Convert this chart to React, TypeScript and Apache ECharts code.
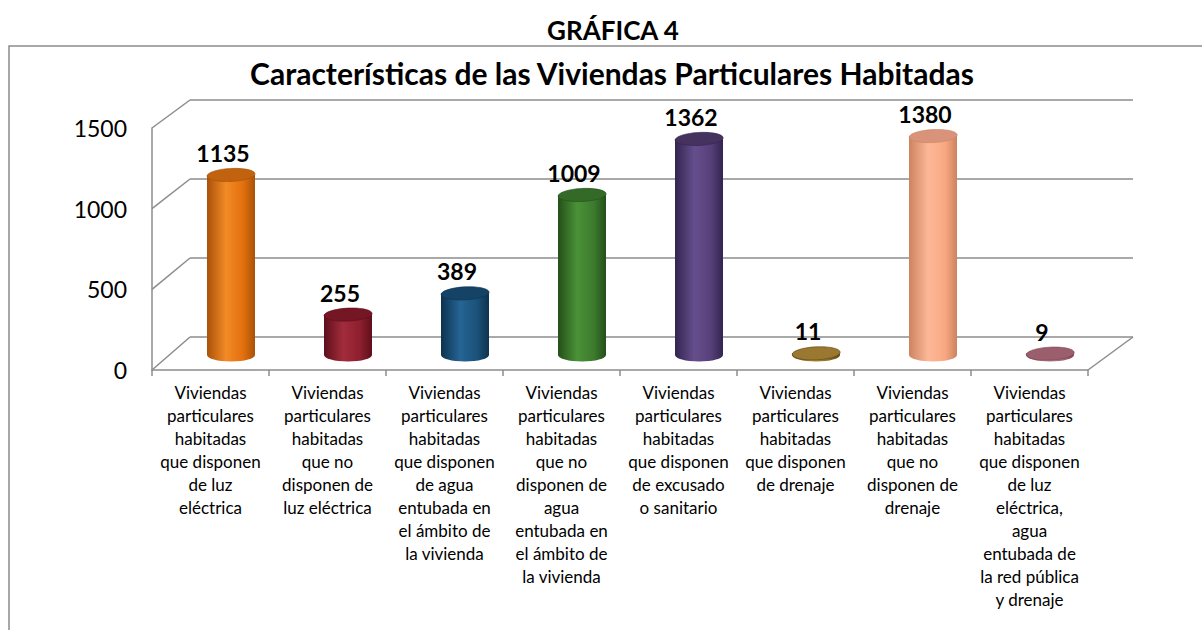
import React, { useEffect, useRef } from "react";
import * as echarts from "echarts";

const categories = [
  "Viviendas\nparticulares\nhabitadas\nque disponen\nde luz\neléctrica",
  "Viviendas\nparticulares\nhabitadas\nque no\ndisponen de\nluz eléctrica",
  "Viviendas\nparticulares\nhabitadas\nque disponen\nde agua\nentubada en\nel ámbito de\nla vivienda",
  "Viviendas\nparticulares\nhabitadas\nque no\ndisponen de\nagua\nentubada en\nel ámbito de\nla vivienda",
  "Viviendas\nparticulares\nhabitadas\nque disponen\nde excusado\no sanitario",
  "Viviendas\nparticulares\nhabitadas\nque disponen\nde drenaje",
  "Viviendas\nparticulares\nhabitadas\nque no\ndisponen de\ndrenaje",
  "Viviendas\nparticulares\nhabitadas\nque disponen\nde luz\neléctrica,\nagua\nentubada de\nla red pública\ny drenaje",
];
const values = [1135, 255, 389, 1009, 1362, 11, 1380, 9];
const yTicks = [0, 500, 1000, 1500];
const barColors = [
  { dark: "#A9520A", light: "#F28A26", base: "#E3700D", top: "#C0620E" },
  { dark: "#5E0F1C", light: "#A22C3B", base: "#8E1F2E", top: "#741624" },
  { dark: "#0D334F", light: "#256494", base: "#1B527A", top: "#154366" },
  { dark: "#244F1A", light: "#4A9237", base: "#3D7A2E", top: "#336A27" },
  { dark: "#33244F", light: "#654E8C", base: "#574079", top: "#45325F" },
  { dark: "#5E4716", light: "#B08A38", base: "#8E6E28", top: "#9A7830" },
  { dark: "#CC8360", light: "#FDB898", base: "#F8A882", top: "#D9937A" },
  { dark: "#804553", light: "#BC8490", base: "#A86876", top: "#9A5E6C" },
];

const FONT = "Lato, 'Open Sans', sans-serif";
const GRAY = "#8c8c8c";

// layout
const FRONT = { left: 152, right: 1088, top: 128, bottom: 370 };
const BACK = { left: 190, right: 1133, top: 100, bottom: 337 };

export default function App() {
  const ref = useRef<HTMLDivElement>(null);
  useEffect(() => {
    if (!ref.current) return;
    const chart = echarts.init(ref.current, undefined, { renderer: "svg" });
    const maxV = yTicks[yTicks.length - 1];
    const diagonals: any[] = yTicks.map((v) => {
      const fy = FRONT.bottom - (v / maxV) * (FRONT.bottom - FRONT.top);
      const by = BACK.bottom - (v / maxV) * (BACK.bottom - BACK.top);
      return {
        type: "line",
        shape: { x1: FRONT.left, y1: fy, x2: BACK.left, y2: by },
        style: { stroke: GRAY, lineWidth: 1.5 },
        z: 1,
      };
    });
    diagonals.push({
      type: "line",
      shape: { x1: FRONT.right, y1: FRONT.bottom, x2: BACK.right, y2: BACK.bottom },
      style: { stroke: GRAY, lineWidth: 1.5 },
      z: 1,
    });

    const option: any = {
      animation: false,
      backgroundColor: "#ffffff",
      textStyle: { fontFamily: FONT },
      grid: [
        { left: BACK.left, right: 1202 - BACK.right, top: BACK.top, bottom: 630 - BACK.bottom },
        { left: FRONT.left, right: 1202 - FRONT.right, top: FRONT.top, bottom: 630 - FRONT.bottom },
        { left: 172.5, right: 93.5, top: 117, bottom: 275 },
      ],
      xAxis: [
        { type: "category", gridIndex: 0, data: categories, show: false },
        {
          type: "category",
          gridIndex: 1,
          data: categories,
          axisLine: { show: true, lineStyle: { color: GRAY, width: 1.5 } },
          axisTick: { show: true, length: 6, lineStyle: { color: GRAY, width: 1.5 } },
          axisLabel: {
            interval: 0,
            color: "#000",
            fontSize: 17,
            lineHeight: 23,
            margin: 11,
            fontFamily: FONT,
            align: "center",
          },
        },
        { type: "category", gridIndex: 2, data: categories, show: false },
      ],
      yAxis: [
        {
          type: "value",
          gridIndex: 0,
          min: 0,
          max: 1500,
          interval: 500,
          axisLabel: { show: false },
          axisLine: { show: false },
          axisTick: { show: false },
          splitLine: { show: true, lineStyle: { color: GRAY, width: 1.5 } },
        },
        {
          type: "value",
          gridIndex: 1,
          min: 0,
          max: 1500,
          interval: 500,
          axisLabel: {
            color: "#000",
            fontSize: 23,
            margin: 25,
            fontFamily: FONT,
            formatter: (v: number) => String(v),
          },
          axisLine: { show: true, lineStyle: { color: GRAY, width: 1.5 } },
          axisTick: { show: false },
          splitLine: { show: false },
        },
        {
          type: "value",
          gridIndex: 2,
          min: 0,
          max: 1500,
          interval: 500,
          show: false,
          splitLine: { show: false },
        },
      ],
      graphic: [
        {
          type: "rect",
          shape: { x: 9, y: 46, width: 1300, height: 700 },
          style: { fill: "none", stroke: GRAY, lineWidth: 1.5 },
          z: 0,
        },
        {
          type: "text",
          x: 613,
          y: 30,
          style: {
            text: "GRÁFICA 4",
            font: `bold 26px ${FONT}`,
            fill: "#000",
            align: "center",
            verticalAlign: "middle",
          },
        },
        {
          type: "text",
          x: 612,
          y: 73,
          style: {
            text: "Características de las Viviendas Particulares Habitadas",
            font: `bold 30px ${FONT}`,
            fill: "#000",
            align: "center",
            verticalAlign: "middle",
          },
        },
        ...diagonals,
      ],
      series: [
        {
          type: "custom",
          xAxisIndex: 2,
          yAxisIndex: 2,
          z: 10,
          data: values.map((v, i) => [i, v]),
          renderItem: (params: any, api: any) => {
            const idx = params.dataIndex;
            const val = api.value(1);
            const top = api.coord([api.value(0), val]);
            const base = api.coord([api.value(0), 0]);
            const rx = 24;
            const ry = 6.5;
            const c = barColors[idx];
            const grad = new echarts.graphic.LinearGradient(0, 0, 1, 0, [
              { offset: 0, color: c.dark },
              { offset: 0.4, color: c.light },
              { offset: 0.75, color: c.base },
              { offset: 1, color: c.dark },
            ]);
            return {
              type: "group",
              children: [
                {
                  type: "ellipse",
                  shape: { cx: base[0], cy: base[1], rx, ry },
                  style: { fill: grad },
                },
                {
                  type: "rect",
                  shape: { x: base[0] - rx, y: top[1], width: rx * 2, height: Math.max(0, base[1] - top[1]) },
                  style: { fill: grad },
                },
                {
                  type: "ellipse",
                  shape: { cx: top[0], cy: top[1], rx, ry },
                  rotation: 0.05,
                  originX: top[0],
                  originY: top[1],
                  style: { fill: c.top, stroke: c.dark, lineWidth: 0.6 },
                },
                {
                  type: "text",
                  x: top[0] - 8,
                  y: top[1] - 22,
                  style: {
                    text: String(val),
                    font: `bold 23px ${FONT}`,
                    fill: "#000",
                    align: "center",
                    verticalAlign: "middle",
                  },
                },
              ],
            };
          },
        },
      ],
    };
    chart.setOption(option);
    return () => chart.dispose();
  }, []);
  return (
    <div
      ref={ref}
      style={{ position: "fixed", left: 0, top: 0, width: 1202, height: 630, background: "#fff" }}
    />
  );
}
